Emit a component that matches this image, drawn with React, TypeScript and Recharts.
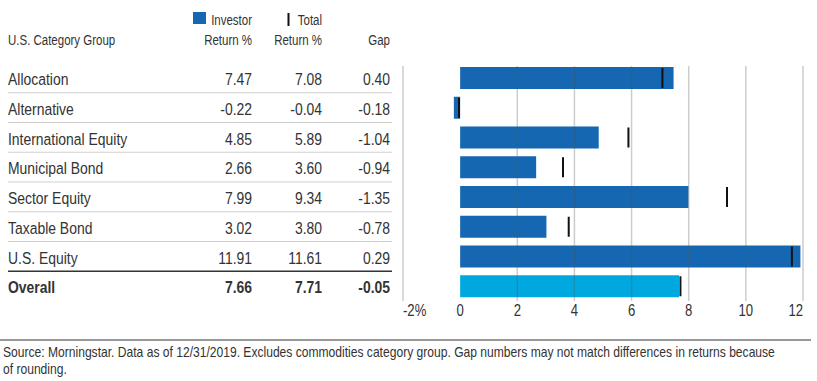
import React from 'react';
import { BarChart, Bar, XAxis, YAxis, ReferenceLine, Cell } from 'recharts';

const categories = [
  'Allocation',
  'Alternative',
  'International Equity',
  'Municipal Bond',
  'Sector Equity',
  'Taxable Bond',
  'U.S. Equity',
  'Overall',
];
const investorReturn = [7.47, -0.22, 4.85, 2.66, 7.99, 3.02, 11.91, 7.66];
const totalReturn = [7.08, -0.04, 5.89, 3.6, 9.34, 3.8, 11.61, 7.71];
const gapValues = [0.4, -0.18, -1.04, -0.94, -1.35, -0.78, 0.29, -0.05];
const xTicks = [-2, 0, 2, 4, 6, 8, 10, 12];
const gridValues = [-2, 2, 4, 6, 8, 10, 12];
const footerLines = [
  'Source: Morningstar. Data as of 12/31/2019. Excludes commodities category group. Gap numbers may not match differences in returns because',
  'of rounding.',
];

const data = categories.map((c, i) => ({
  category: c,
  investor: investorReturn[i],
  total: totalReturn[i],
  gap: gapValues[i],
}));

const FONT = "'Liberation Sans', Arial, sans-serif";
const SX = 0.82;
const TEXT = '#333333';
const BLUE = '#1467b0';
const LIGHT_BLUE = '#00a8e0';
const HALF_BAND = 14.875;
const W = 817;
const H = 381;

const fmt = (v: number) => v.toFixed(2);

function NText(props: any) {
  const { x, y, anchor = 'start', size = 14, weight = 400, dy, children } = props;
  return (
    <text
      transform={`translate(${x},${y}) scale(${SX},1)`}
      x={0}
      y={0}
      dy={dy}
      textAnchor={anchor}
      fontFamily={FONT}
      fontSize={size}
      fontWeight={weight}
      fill={TEXT}
    >
      {children}
    </text>
  );
}

function TableTick(props: any) {
  const { y, payload } = props;
  const i = categories.indexOf(payload.value);
  if (i < 0) return null;
  const d = data[i];
  const isOverall = i === categories.length - 1;
  const weight = isOverall ? 700 : 400;
  const ty = y + 1.3;
  return (
    <g>
      {i > 0 && (
        <line
          x1={8}
          x2={392}
          y1={y - HALF_BAND}
          y2={y - HALF_BAND}
          stroke={isOverall ? '#333' : '#cfcfcf'}
          strokeWidth={isOverall ? 1.5 : 1}
        />
      )}
      <NText x={8} y={ty} dy="0.35em" size={17} weight={weight}>{d.category}</NText>
      <NText x={252} y={ty} dy="0.35em" size={17} weight={weight} anchor="end">{fmt(d.investor)}</NText>
      <NText x={322} y={ty} dy="0.35em" size={17} weight={weight} anchor="end">{fmt(d.total)}</NText>
      <NText x={390} y={ty} dy="0.35em" size={17} weight={weight} anchor="end">{fmt(d.gap)}</NText>
    </g>
  );
}

function XTick(props: any) {
  const { x, payload } = props;
  const idx = xTicks.indexOf(payload.value);
  const anchor = idx === 0 ? 'start' : idx === xTicks.length - 1 ? 'end' : 'middle';
  const label = idx === 0 ? `${payload.value}%` : `${payload.value}`;
  return (
    <NText x={x} y={316} anchor={anchor} size={16}>
      {label}
    </NText>
  );
}

function TotalMarker(props: any) {
  const { x, y, width, height, payload } = props;
  if (x == null || width == null) return null;
  const a = x;
  const b = x + width;
  const end = payload && payload.total < 0 ? Math.min(a, b) : Math.max(a, b);
  return <rect x={end - 1} y={y} width={2} height={height} fill="#111" />;
}

function GridShape(props: any) {
  const { x1, x2, y1, y2 } = props;
  const top = Math.min(y1, y2) + 3;
  const bottom = Math.max(y1, y2);
  return <line x1={x1} x2={x2} y1={top} y2={bottom} stroke="#555" strokeOpacity={0.3} strokeWidth={1.5} />;
}

export default function App() {
  return (
    <div style={{ position: 'absolute', left: 0, top: 0, width: W, height: H, background: '#fff' }}>
      <BarChart
        width={W}
        height={H}
        data={data}
        layout="vertical"
        margin={{ top: 63, right: 14, bottom: 50, left: 0 }}
      >
        <XAxis
          type="number"
          domain={[-2, 12]}
          ticks={xTicks}
          interval={0}
          axisLine={false}
          tickLine={false}
          tickSize={0}
          height={30}
          tick={<XTick />}
        />
        <YAxis
          yAxisId="a"
          type="category"
          dataKey="category"
          width={403}
          axisLine={false}
          tickLine={false}
          interval={0}
          tick={<TableTick />}
        />
        <YAxis yAxisId="b" type="category" dataKey="category" hide />
        <Bar yAxisId="a" dataKey="investor" barSize={22} isAnimationActive={false}>
          {data.map((d, i) => (
            <Cell key={d.category} fill={i === data.length - 1 ? LIGHT_BLUE : BLUE} />
          ))}
        </Bar>
        <Bar yAxisId="b" dataKey="total" barSize={20} isAnimationActive={false} shape={<TotalMarker />} />
        {gridValues.map((v) => (
          <ReferenceLine key={v} x={v} yAxisId="a" shape={<GridShape />} />
        ))}
      </BarChart>
      <svg
        width={W}
        height={H}
        style={{ position: 'absolute', left: 0, top: 0, pointerEvents: 'none' }}
      >
        <rect x={193} y={12} width={13} height={12} fill={BLUE} />
        <NText x={252} y={25} anchor="end">Investor</NText>
        <rect x={287.5} y={13} width={2} height={13} fill="#111" />
        <NText x={322} y={25} anchor="end">Total</NText>
        <NText x={8} y={45}>U.S. Category Group</NText>
        <NText x={252} y={45} anchor="end">Return %</NText>
        <NText x={322} y={45} anchor="end">Return %</NText>
        <NText x={390} y={45} anchor="end">Gap</NText>
        <line x1={0} x2={811} y1={340} y2={340} stroke="#333" strokeWidth={1.2} />
        {footerLines.map((t, i) => (
          <NText key={i} x={3} y={357 + i * 16.5} size={14.75}>
            {t}
          </NText>
        ))}
      </svg>
    </div>
  );
}
